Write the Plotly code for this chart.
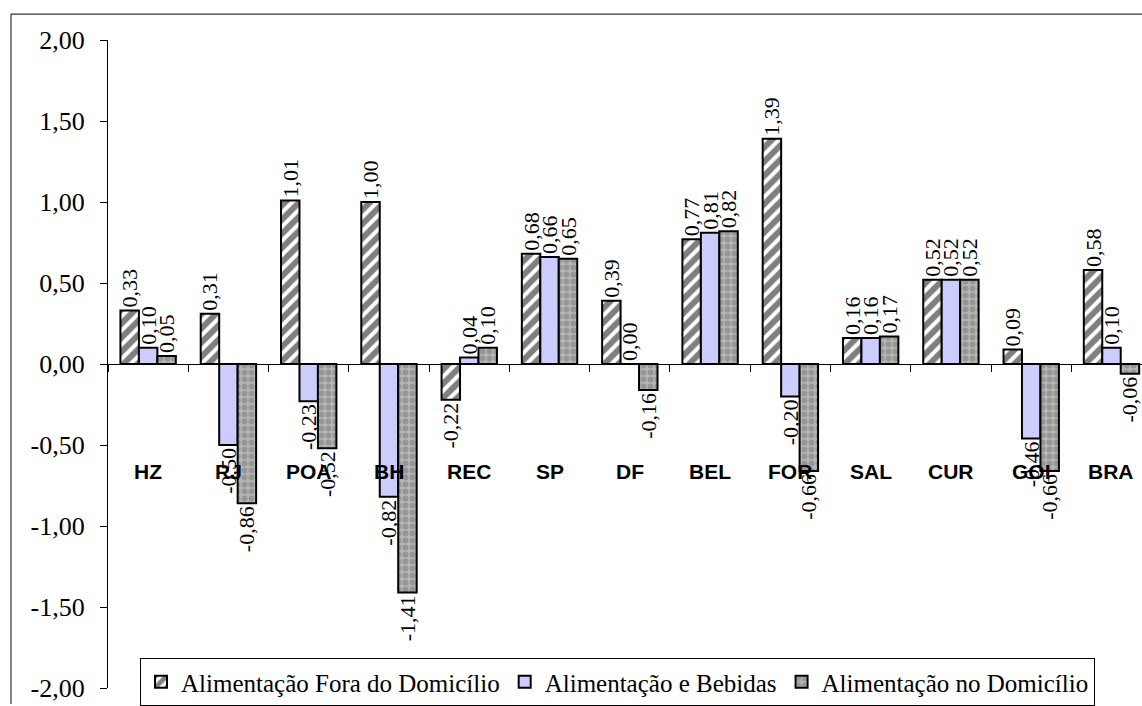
import plotly.graph_objects as go

categories = ["HZ", "RJ", "POA", "BH", "REC", "SP", "DF", "BEL", "FOR", "SAL", "CUR", "GOI", "BRA"]
fora_domicilio = [0.33, 0.31, 1.01, 1.00, -0.22, 0.68, 0.39, 0.77, 1.39, 0.16, 0.52, 0.09, 0.58]
alim_bebidas = [0.10, -0.50, -0.23, -0.82, 0.04, 0.66, 0.00, 0.81, -0.20, 0.16, 0.52, -0.46, 0.10]
no_domicilio = [0.05, -0.86, -0.52, -1.41, 0.10, 0.65, -0.16, 0.82, -0.66, 0.17, 0.52, -0.66, -0.06]
series_names = ["Alimentação Fora do Domicílio", "Alimentação e Bebidas", "Alimentação no Domicílio"]
y_ticks = [-2.0, -1.5, -1.0, -0.5, 0.0, 0.5, 1.0, 1.5, 2.0]


def fmt(v):
    return f"{v:.2f}".replace(".", ",")


SERIF = "Liberation Serif, Times New Roman, serif"
SANS = "Liberation Sans, Arial, sans-serif"

W, H = 1142, 706
ML, MR, MT, MB = 108, 0, 40, 16
PW, PH = W - ML - MR, H - MT - MB

styles = [
    dict(color="white", line=dict(color="black", width=2),
         pattern=dict(shape="/", fgcolor="black", bgcolor="white", size=10, solidity=0.6)),
    dict(color="#CCCCFF", line=dict(color="black", width=2)),
    dict(color="#A0A0A0", line=dict(color="black", width=2),
         pattern=dict(shape=".", fgcolor="#777777", bgcolor="#B5B5B5", size=7, solidity=0.55)),
]

fig = go.Figure()
for name, vals, st in zip(series_names, [fora_domicilio, alim_bebidas, no_domicilio], styles):
    fig.add_trace(go.Bar(
        x=categories, y=vals, name=name, marker=st,
        text=[fmt(v) for v in vals], textposition="outside", textangle=-90,
        constraintext="none", cliponaxis=False,
        textfont=dict(family=SERIF, size=22, color="black"),
    ))

for c in categories:
    fig.add_annotation(x=c, y=-0.665, text=f"<b>{c}</b>", showarrow=False,
                       font=dict(family=SANS, size=21, color="black"),
                       xanchor="center", yanchor="middle")

# outer chart frame (left and top edges visible)
fx = (11 - ML) / PW
fy_top = (H - MB - 14) / PH
fy_bot = (H - MB - H) / PH
fig.add_shape(type="line", xref="paper", yref="paper", x0=fx, x1=fx, y0=fy_bot, y1=fy_top,
              line=dict(color="#333333", width=1.2))
fig.add_shape(type="line", xref="paper", yref="paper", x0=fx, x1=(W - ML) / PW + 0.01, y0=fy_top, y1=fy_top,
              line=dict(color="#333333", width=1.2))

fig.update_layout(
    width=W, height=H,
    margin=dict(l=ML, r=MR, t=MT, b=MB, pad=0),
    paper_bgcolor="white", plot_bgcolor="white",
    barmode="group", bargap=0.31, bargroupgap=0,
    showlegend=True,
    legend=dict(orientation="h", x=(140 - ML) / PW, y=(H - MB - 660) / PH,
                xanchor="left", yanchor="top",
                bgcolor="white", bordercolor="black", borderwidth=1,
                font=dict(family=SERIF, size=25, color="black"),
                itemwidth=30, tracegroupgap=0, traceorder="normal"),
    xaxis=dict(type="category", range=[-0.5, 12.38], anchor="free", position=0.5,
               showline=True, linecolor="black", linewidth=1.2,
               ticks="outside", ticklen=7, tickcolor="black", tickwidth=1.2,
               tickson="boundaries", showticklabels=False, showgrid=False, zeroline=False),
    yaxis=dict(range=[-2, 2], tickvals=y_ticks, ticktext=[fmt(v) for v in y_ticks],
               showline=True, linecolor="black", linewidth=1.2,
               ticks="outside", ticklen=7, tickcolor="black", tickwidth=1.2,
               ticklabelstandoff=10,
               tickfont=dict(family=SERIF, size=26, color="black"),
               showgrid=False, zeroline=False),
)

fig.write_html("out.html", config={"displayModeBar": False},
               post_script="document.body.style.margin='0';")
